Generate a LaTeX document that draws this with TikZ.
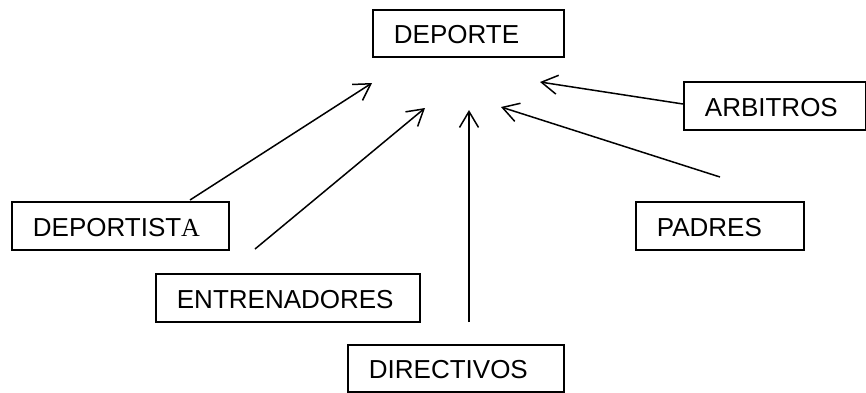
\documentclass[tikz,border=0pt]{standalone}
\usepackage{fontspec}
\setmainfont{Liberation Sans}
\newfontfamily\serifA{Liberation Serif}
\usetikzlibrary{arrows.meta}
\begin{document}
\begin{tikzpicture}[x=1pt,y=-1pt,
  box/.style={draw, line width=1.8pt, anchor=north west, inner xsep=21pt, inner ysep=0pt,
    text height=21pt, text depth=0pt, align=left, font=\fontsize{26}{28}\selectfont},
  arr/.style={line width=1.5pt, -{Straight Barb[length=16pt,width=19pt]}}]
\useasboundingbox[fill=white] (0,0) rectangle (866,392);
\node[box, minimum height=47pt, text width=149pt] (deporte) at (372,9) {DEPORTE};
\node[box, minimum height=48pt, text width=175pt] (deportista) at (11,201) {DEPORTIST{\serifA A}};
\node[box, minimum height=48pt, text width=222pt] (entrenadores) at (155,273) {ENTRENADORES};
\node[box, minimum height=47pt, text width=174pt] (directivos) at (347,344) {DIRECTIVOS};
\node[box, minimum height=48pt, text width=126pt] (padres) at (635,201) {PADRES};
\node[box, minimum height=48pt, text width=139.5pt] (arbitros) at (683,81) {ARBITROS};
\coordinate (s1) at (190,200);
\coordinate (t1) at (372,83);
\coordinate (s2) at (255,249);
\coordinate (t2) at (425,108);
\coordinate (s3) at (469,322);
\coordinate (t3) at (469,110);
\coordinate (s4) at (720,177);
\coordinate (t4) at (501,107);
\coordinate (s5) at (683,104);
\coordinate (t5) at (540,82);
\draw[arr] (s1) -- (t1);
\draw[arr] (s2) -- (t2);
\draw[arr] (s3) -- (t3);
\draw[arr] (s4) -- (t4);
\draw[arr] (s5) -- (t5);
\end{tikzpicture}
\end{document}
